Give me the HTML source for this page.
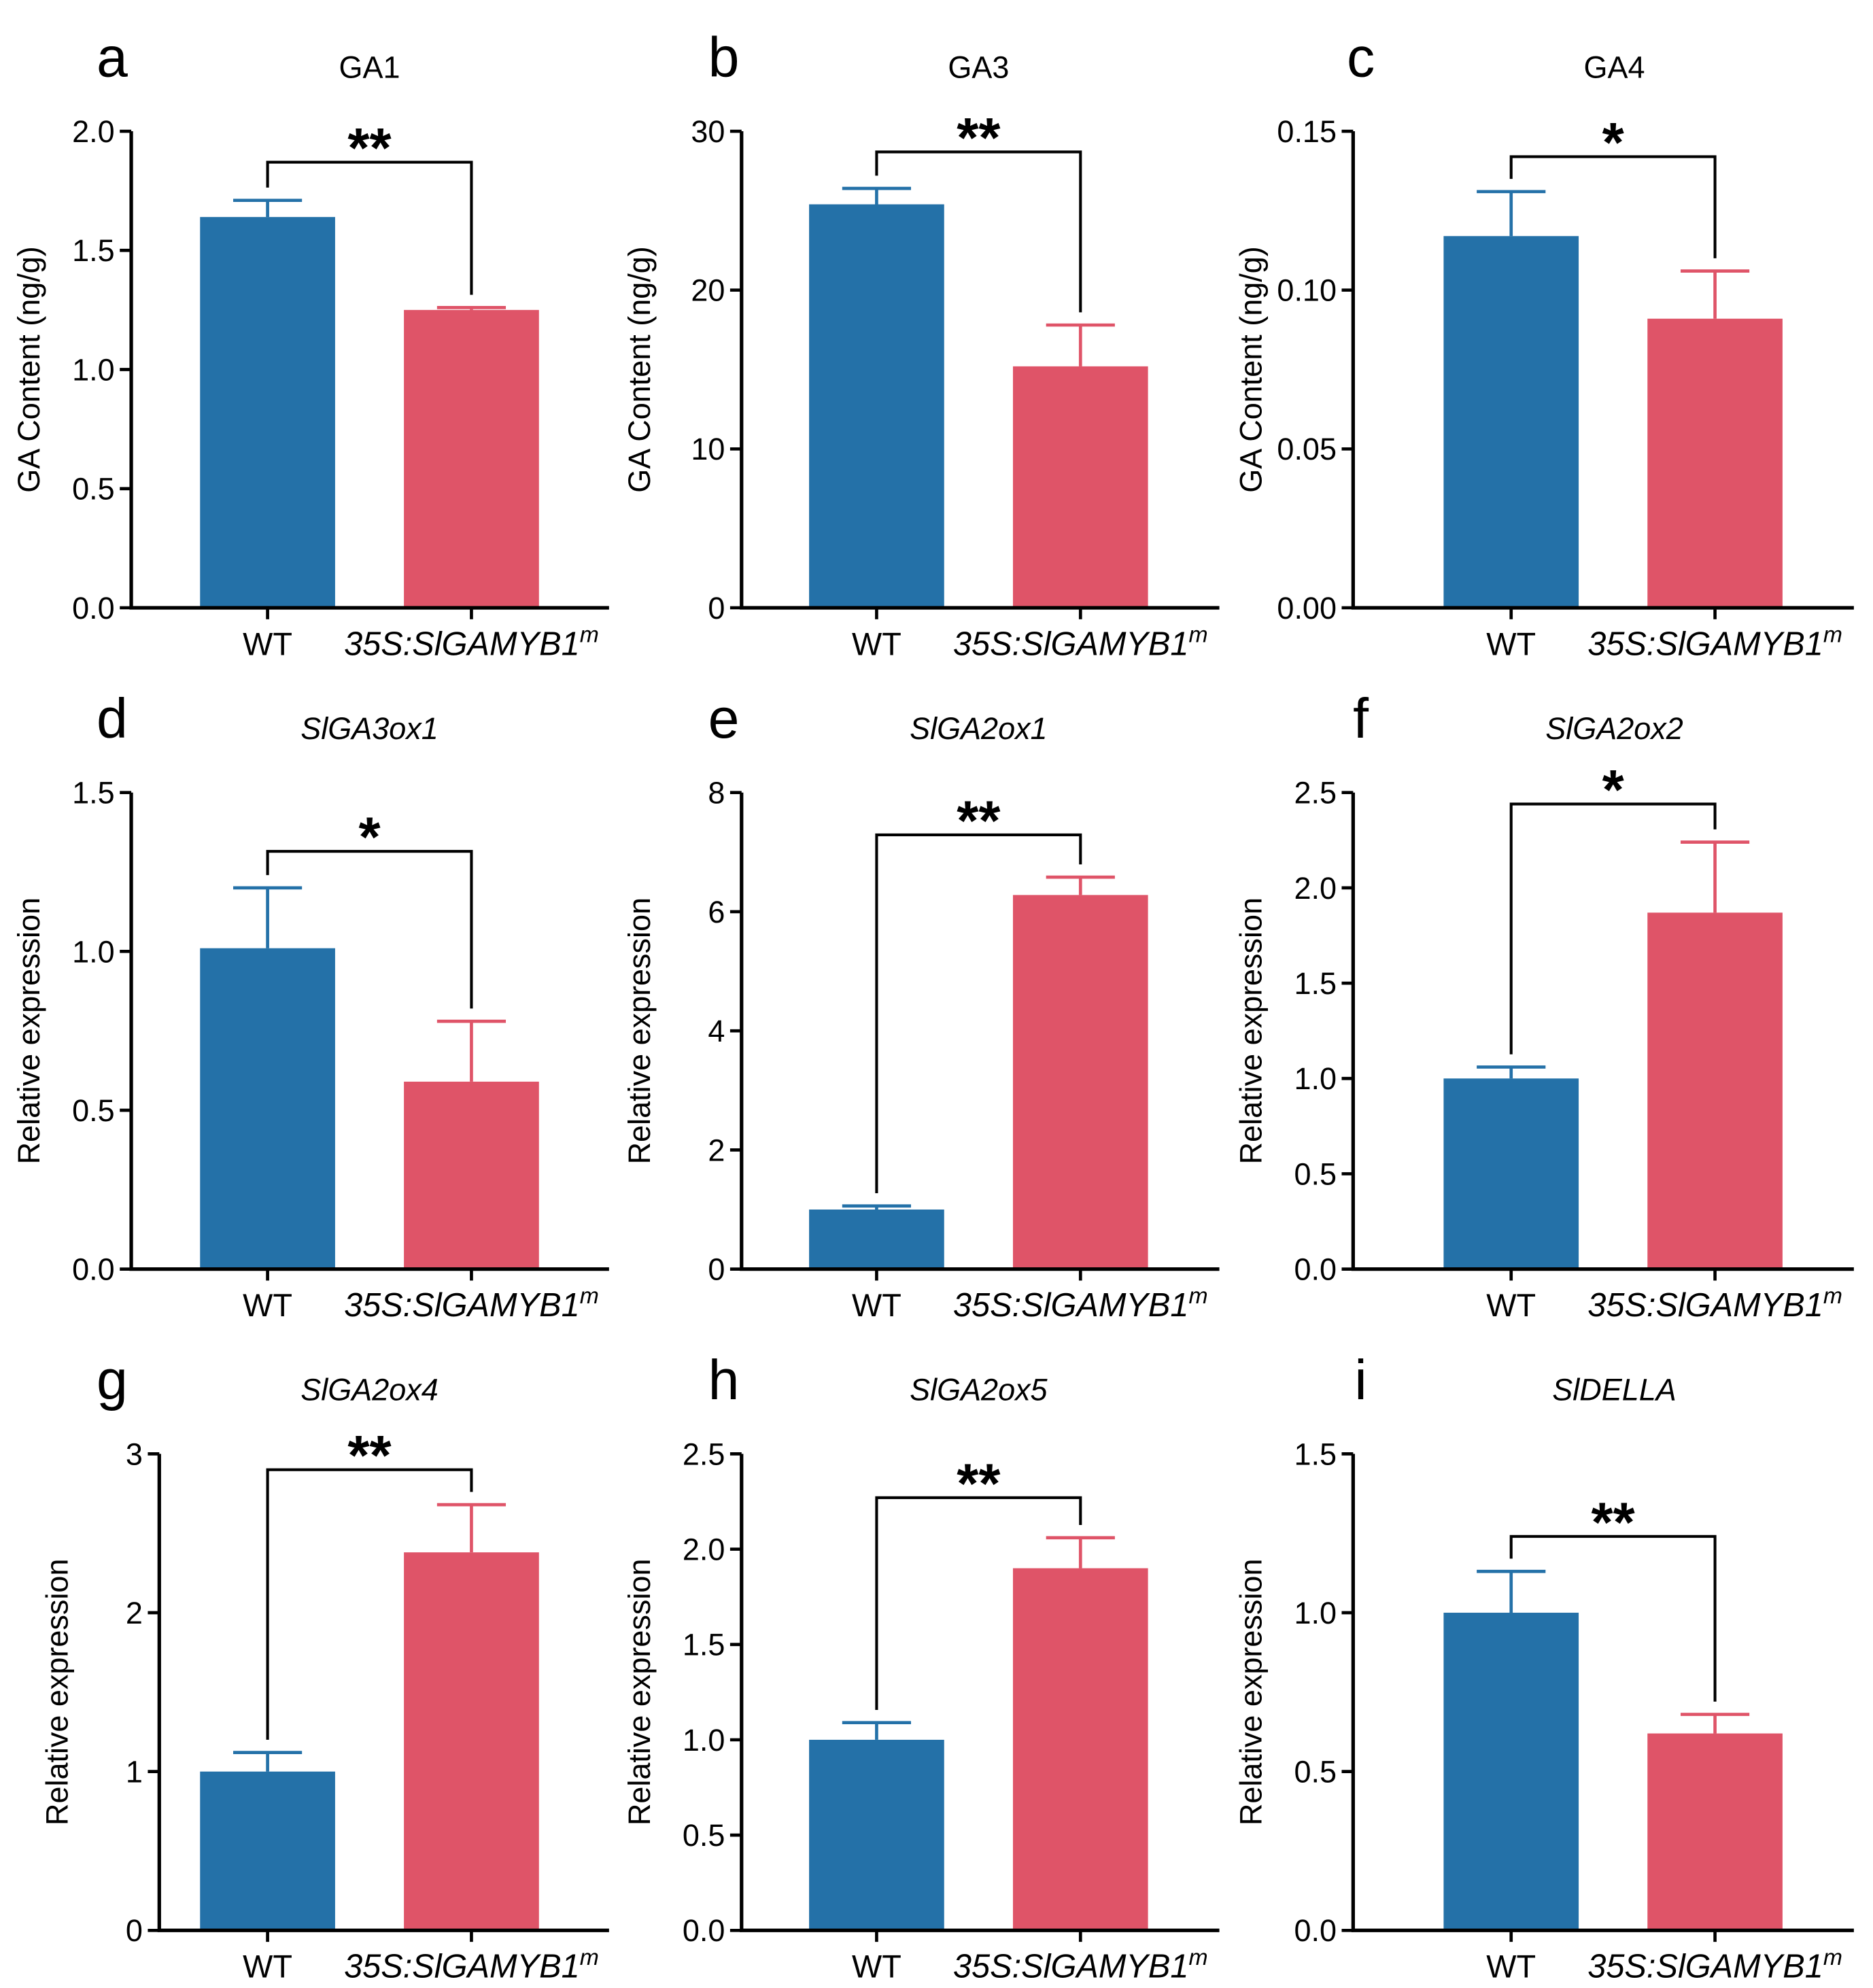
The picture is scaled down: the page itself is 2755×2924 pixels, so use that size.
<!DOCTYPE html>
<html><head><meta charset="utf-8">
<style>
html,body{margin:0;padding:0;background:#fff;}
svg{display:block;font-family:"Liberation Sans",Arial,sans-serif;}
</style></head>
<body>
<svg id="fig" width="2755" height="2924" viewBox="0 0 1470 1560.2"></svg>
<script>
const panelLetters = ["a","b","c","d","e","f","g","h","i"];
const panelTitles = ["GA1","GA3","GA4","SlGA3ox1","SlGA2ox1","SlGA2ox2","SlGA2ox4","SlGA2ox5","SlDELLA"];
const titleItalic = [false,false,false,true,true,true,true,true,true];
const yMaxes = [2.0,30,0.15,1.5,8,2.5,3,2.5,1.5];
const yTickLabels = [
  ["0.0","0.5","1.0","1.5","2.0"],["0","10","20","30"],["0.00","0.05","0.10","0.15"],
  ["0.0","0.5","1.0","1.5"],["0","2","4","6","8"],["0.0","0.5","1.0","1.5","2.0","2.5"],
  ["0","1","2","3"],["0.0","0.5","1.0","1.5","2.0","2.5"],["0.0","0.5","1.0","1.5"]];
const yTitles = ["GA Content (ng/g)","GA Content (ng/g)","GA Content (ng/g)","Relative expression","Relative expression","Relative expression","Relative expression","Relative expression","Relative expression"];
const wtValues = [1.64,25.4,0.117,1.01,1.0,1.0,1.0,1.0,1.0];
const wtErrTops = [1.71,26.4,0.131,1.2,1.06,1.06,1.12,1.09,1.13];
const mutValues = [1.25,15.2,0.091,0.59,6.28,1.87,2.38,1.9,0.62];
const mutErrTops = [1.26,17.8,0.106,0.78,6.58,2.24,2.68,2.06,0.68];
const bracketLevels = [1.87,28.7,0.142,1.315,7.29,2.44,2.9,2.27,1.24];
const stars = ["**","**","*","*","**","*","**","**","**"];

const NS="http://www.w3.org/2000/svg";
const svg=document.getElementById('fig');
const BLUE="#2471a8", RED="#df5468";
const colBar0=[157,635,1133], colAxisEnd=[478,957,1455], colTitle=[290,768,1267], colLetter=[88,568,1068];
const rowTop=[103,622,1141], rowBot=[477,996,1515];
const axisXs=[103,582,1062,103,582,1062,125,582,1062];
const BW=106, GAP=160;
function mk(tag,attrs,parent){const e=document.createElementNS(NS,tag);for(const k in attrs)e.setAttribute(k,attrs[k]);(parent||svg).appendChild(e);return e;}

for(let p=0;p<9;p++){
  const c=p%3,r=Math.floor(p/3);
  const g=mk('g',{});
  
  
  const top=rowTop[r],bot=rowBot[r],ax=axisXs[p];
  const yS=v=>bot-(v/yMaxes[p])*(bot-top);
  const b0=colBar0[c], cx0=b0+BW/2, cx1=b0+GAP+BW/2;
  let t=mk('text',{x:colLetter[c],y:top-43,'font-size':44,'text-anchor':'middle',fill:'#000'},g);
  t.textContent=panelLetters[p];
  
  
  t=mk('text',{x:colTitle[c],y:top-42,'font-size':24,'text-anchor':'middle','font-style':titleItalic[p]?'italic':'normal'},g);
  t.textContent=panelTitles[p];
  
  
  const vals=[wtValues[p],mutValues[p]], errs=[wtErrTops[p],mutErrTops[p]], cols=[BLUE,RED], cxs=[cx0,cx1];
  for(let i=0;i<2;i++){
    const x=b0+i*GAP;
    const bar=mk('rect',{x:x,y:yS(vals[i]),width:BW,height:bot-yS(vals[i]),fill:cols[i]},g);
    
    
    const eb=mk('path',{d:`M${cxs[i]},${yS(vals[i])}V${yS(errs[i])}M${cxs[i]-27},${yS(errs[i])}H${cxs[i]+27}`,stroke:cols[i],'stroke-width':2.5,fill:'none'},g);
    
    
  }
  const axes=mk('path',{d:`M${ax},${top}V${bot}H${colAxisEnd[c]}`,stroke:'#000','stroke-width':2.8,fill:'none'},g);
  
  
  const labs=yTickLabels[p];
  for(let k=0;k<labs.length;k++){
    const v=parseFloat(labs[k]), y=yS(v);
    mk('line',{x1:ax-9,x2:ax,y1:y,y2:y,stroke:'#000','stroke-width':2.5},g);
    t=mk('text',{x:ax-13,y:y+8.5,'font-size':24,'text-anchor':'end'},g);
    t.textContent=labs[k];
    
    
  }
  for(const cx of cxs) mk('line',{x1:cx,x2:cx,y1:bot,y2:bot+9,stroke:'#000','stroke-width':2.5},g);
  t=mk('text',{x:cx0,y:bot+37,'font-size':25,'text-anchor':'middle'},g);
  t.textContent='WT';
  
  
  t=mk('text',{x:cx1,y:bot+37,'font-size':26,'text-anchor':'middle','font-style':'italic'},g);
  t.innerHTML='35S:SlGAMYB1<tspan dy="-10" font-size="18">m</tspan>';
  
  
  const ty=(top+bot)/2, tx=ax-72;
  t=mk('text',{x:tx,y:ty,'font-size':24,'text-anchor':'middle',transform:`rotate(-90 ${tx} ${ty})`},g);
  t.textContent=yTitles[p];
  
  
  const by=yS(bracketLevels[p]);
  const br=mk('path',{d:`M${cx0},${yS(errs[0])-10}V${by}H${cx1}V${yS(errs[1])-10}`,stroke:'#000','stroke-width':2.2,fill:'none'},g);
  
  
  t=mk('text',{x:(cx0+cx1)/2,y:by+4,'font-size':44,'font-weight':'bold','text-anchor':'middle'},g);
  t.textContent=stars[p];
  
  
}
</script>
</body></html>
